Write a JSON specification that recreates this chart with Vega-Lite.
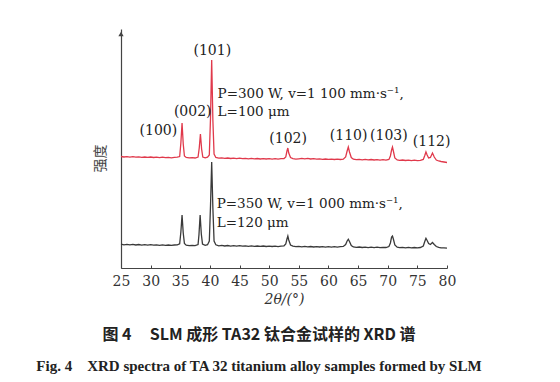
{
  "$schema": "https://vega.github.io/schema/vega-lite/v6.json",
  "width": 326,
  "height": 239,
  "autosize": {"type": "none"},
  "padding": {"left": 121, "top": 29, "right": 113, "bottom": 114},
  "background": "white",
  "config": {"view": {"stroke": null}, "axisX": {"labelOverlap": false}},
  "title": {
    "text": "图 4\u00a0\u00a0\u00a0\u00a0 SLM 成形 TA32 钛合金试样的 XRD 谱",
    "subtitle": "Fig. 4\u00a0\u00a0\u00a0 XRD spectra of TA 32 titanium alloy samples formed by SLM",
    "orient": "bottom",
    "anchor": "middle",
    "dx": -25,
    "offset": 21,
    "font": "Noto Sans CJK SC",
    "fontSize": 16,
    "fontWeight": "bold",
    "color": "#222",
    "subtitleFont": "Liberation Serif",
    "subtitleFontSize": 15,
    "subtitleFontWeight": "bold",
    "subtitleColor": "#222",
    "subtitlePadding": 16
  },
  "datasets": {
    "xrd": [
      {"s":"r","x":25,"y":111.5},{"s":"r","x":25.5,"y":111.0},{"s":"r","x":26,"y":111.4},{"s":"r","x":26.5,"y":110.9},{"s":"r","x":27,"y":111.3},{"s":"r","x":27.5,"y":110.8},{"s":"r","x":28,"y":111.2},{"s":"r","x":28.5,"y":110.7},{"s":"r","x":29,"y":111.0},{"s":"r","x":29.5,"y":110.6},{"s":"r","x":30,"y":111.0},{"s":"r","x":30.5,"y":110.5},{"s":"r","x":31,"y":110.9},{"s":"r","x":31.5,"y":110.4},{"s":"r","x":32,"y":110.8},{"s":"r","x":32.5,"y":110.3},{"s":"r","x":33,"y":110.6},{"s":"r","x":33.5,"y":110.2},{"s":"r","x":34,"y":110.6},{"s":"r","x":34.5,"y":110.8},{"s":"r","x":34.9,"y":111.5},{"s":"r","x":35.1,"y":125},{"s":"r","x":35.3,"y":145},{"s":"r","x":35.5,"y":124},{"s":"r","x":35.7,"y":112},{"s":"r","x":36,"y":110.5},{"s":"r","x":36.5,"y":110.1},{"s":"r","x":37,"y":110.4},{"s":"r","x":37.5,"y":110.0},{"s":"r","x":38,"y":111.0},{"s":"r","x":38.2,"y":120},{"s":"r","x":38.4,"y":134},{"s":"r","x":38.6,"y":119},{"s":"r","x":38.8,"y":111},{"s":"r","x":39.2,"y":110.2},{"s":"r","x":39.6,"y":110.8},{"s":"r","x":39.9,"y":113},{"s":"r","x":40.1,"y":150},{"s":"r","x":40.3,"y":208},{"s":"r","x":40.5,"y":148},{"s":"r","x":40.7,"y":114},{"s":"r","x":41,"y":110.5},{"s":"r","x":41.5,"y":109.8},{"s":"r","x":42,"y":110.2},{"s":"r","x":42.5,"y":109.6},{"s":"r","x":43,"y":110.0},{"s":"r","x":43.5,"y":109.5},{"s":"r","x":44,"y":109.9},{"s":"r","x":44.5,"y":109.4},{"s":"r","x":45,"y":109.8},{"s":"r","x":45.5,"y":109.3},{"s":"r","x":46,"y":109.7},{"s":"r","x":46.5,"y":109.2},{"s":"r","x":47,"y":109.6},{"s":"r","x":47.5,"y":109.1},{"s":"r","x":48,"y":109.5},{"s":"r","x":48.5,"y":109.0},{"s":"r","x":49,"y":109.4},{"s":"r","x":49.5,"y":109.0},{"s":"r","x":50,"y":109.3},{"s":"r","x":50.5,"y":108.9},{"s":"r","x":51,"y":109.3},{"s":"r","x":51.5,"y":108.8},{"s":"r","x":52,"y":109.3},{"s":"r","x":52.5,"y":109.5},{"s":"r","x":52.8,"y":111},{"s":"r","x":53.0,"y":117},{"s":"r","x":53.15,"y":120},{"s":"r","x":53.3,"y":115},{"s":"r","x":53.6,"y":110.5},{"s":"r","x":54,"y":109.3},{"s":"r","x":54.5,"y":108.8},{"s":"r","x":55,"y":109.2},{"s":"r","x":55.5,"y":109.6},{"s":"r","x":56,"y":109.2},{"s":"r","x":56.5,"y":109.6},{"s":"r","x":57,"y":109.0},{"s":"r","x":57.5,"y":109.3},{"s":"r","x":58,"y":108.8},{"s":"r","x":58.5,"y":109.2},{"s":"r","x":59,"y":108.7},{"s":"r","x":59.5,"y":109.0},{"s":"r","x":60,"y":108.6},{"s":"r","x":60.5,"y":108.9},{"s":"r","x":61,"y":108.5},{"s":"r","x":61.5,"y":108.9},{"s":"r","x":62,"y":108.5},{"s":"r","x":62.5,"y":108.8},{"s":"r","x":62.9,"y":111},{"s":"r","x":63.15,"y":117},{"s":"r","x":63.35,"y":121},{"s":"r","x":63.55,"y":116},{"s":"r","x":63.85,"y":110.5},{"s":"r","x":64.2,"y":108.8},{"s":"r","x":64.7,"y":108.3},{"s":"r","x":65.2,"y":108.7},{"s":"r","x":65.7,"y":108.2},{"s":"r","x":66.2,"y":108.6},{"s":"r","x":66.7,"y":108.1},{"s":"r","x":67.2,"y":108.5},{"s":"r","x":67.7,"y":108.0},{"s":"r","x":68.2,"y":108.4},{"s":"r","x":68.7,"y":107.9},{"s":"r","x":69.2,"y":108.3},{"s":"r","x":69.7,"y":107.9},{"s":"r","x":70.2,"y":108.5},{"s":"r","x":70.45,"y":112},{"s":"r","x":70.65,"y":118},{"s":"r","x":70.8,"y":121},{"s":"r","x":70.95,"y":117},{"s":"r","x":71.2,"y":110},{"s":"r","x":71.6,"y":108},{"s":"r","x":72,"y":107.6},{"s":"r","x":72.5,"y":108.0},{"s":"r","x":73,"y":107.5},{"s":"r","x":73.5,"y":107.9},{"s":"r","x":74,"y":107.4},{"s":"r","x":74.5,"y":107.8},{"s":"r","x":75,"y":107.3},{"s":"r","x":75.5,"y":107.7},{"s":"r","x":76,"y":108.5},{"s":"r","x":76.25,"y":112.5},{"s":"r","x":76.45,"y":116},{"s":"r","x":76.65,"y":113},{"s":"r","x":76.9,"y":110},{"s":"r","x":77.2,"y":110.5},{"s":"r","x":77.55,"y":115},{"s":"r","x":77.85,"y":111},{"s":"r","x":78.2,"y":108},{"s":"r","x":78.6,"y":107},{"s":"r","x":79,"y":106.5},{"s":"r","x":79.5,"y":106},{"s":"r","x":80,"y":105.5},
      {"s":"k","x":25,"y":23.8},{"s":"k","x":25.5,"y":23.2},{"s":"k","x":26,"y":23.7},{"s":"k","x":26.5,"y":23.1},{"s":"k","x":27,"y":23.6},{"s":"k","x":27.5,"y":23.0},{"s":"k","x":28,"y":23.5},{"s":"k","x":28.5,"y":22.9},{"s":"k","x":29,"y":23.4},{"s":"k","x":29.5,"y":22.9},{"s":"k","x":30,"y":23.3},{"s":"k","x":30.5,"y":22.8},{"s":"k","x":31,"y":23.2},{"s":"k","x":31.5,"y":22.7},{"s":"k","x":32,"y":23.1},{"s":"k","x":32.5,"y":22.6},{"s":"k","x":33,"y":23.0},{"s":"k","x":33.5,"y":22.6},{"s":"k","x":34,"y":23.0},{"s":"k","x":34.5,"y":23.1},{"s":"k","x":34.9,"y":24.2},{"s":"k","x":35.1,"y":36},{"s":"k","x":35.3,"y":53},{"s":"k","x":35.5,"y":35},{"s":"k","x":35.7,"y":24.5},{"s":"k","x":36,"y":22.8},{"s":"k","x":36.5,"y":22.3},{"s":"k","x":37,"y":22.7},{"s":"k","x":37.5,"y":22.3},{"s":"k","x":38,"y":23.4},{"s":"k","x":38.15,"y":33},{"s":"k","x":38.35,"y":53},{"s":"k","x":38.55,"y":34},{"s":"k","x":38.75,"y":24},{"s":"k","x":39.2,"y":22.6},{"s":"k","x":39.6,"y":23.3},{"s":"k","x":39.9,"y":27},{"s":"k","x":40.1,"y":62},{"s":"k","x":40.3,"y":106},{"s":"k","x":40.5,"y":60},{"s":"k","x":40.7,"y":27},{"s":"k","x":41,"y":23.2},{"s":"k","x":41.5,"y":22.2},{"s":"k","x":42,"y":22.6},{"s":"k","x":42.5,"y":22.0},{"s":"k","x":43,"y":22.5},{"s":"k","x":43.5,"y":21.9},{"s":"k","x":44,"y":22.4},{"s":"k","x":44.5,"y":21.8},{"s":"k","x":45,"y":22.3},{"s":"k","x":45.5,"y":21.8},{"s":"k","x":46,"y":22.2},{"s":"k","x":46.5,"y":21.7},{"s":"k","x":47,"y":22.1},{"s":"k","x":47.5,"y":21.6},{"s":"k","x":48,"y":22.0},{"s":"k","x":48.5,"y":21.6},{"s":"k","x":49,"y":22.0},{"s":"k","x":49.5,"y":21.5},{"s":"k","x":50,"y":21.9},{"s":"k","x":50.5,"y":21.5},{"s":"k","x":51,"y":21.9},{"s":"k","x":51.5,"y":21.4},{"s":"k","x":52,"y":21.9},{"s":"k","x":52.5,"y":22.2},{"s":"k","x":52.8,"y":24},{"s":"k","x":53.0,"y":29},{"s":"k","x":53.15,"y":32},{"s":"k","x":53.3,"y":28},{"s":"k","x":53.6,"y":23},{"s":"k","x":54,"y":21.8},{"s":"k","x":54.5,"y":21.3},{"s":"k","x":55,"y":21.7},{"s":"k","x":55.5,"y":21.2},{"s":"k","x":56,"y":21.6},{"s":"k","x":56.5,"y":21.1},{"s":"k","x":57,"y":21.5},{"s":"k","x":57.5,"y":21.0},{"s":"k","x":58,"y":21.4},{"s":"k","x":58.5,"y":21.0},{"s":"k","x":59,"y":21.4},{"s":"k","x":59.5,"y":20.9},{"s":"k","x":60,"y":21.3},{"s":"k","x":60.5,"y":20.9},{"s":"k","x":61,"y":21.3},{"s":"k","x":61.5,"y":20.8},{"s":"k","x":62,"y":21.3},{"s":"k","x":62.5,"y":21.6},{"s":"k","x":62.9,"y":23.5},{"s":"k","x":63.15,"y":27},{"s":"k","x":63.35,"y":28.7},{"s":"k","x":63.55,"y":26.5},{"s":"k","x":63.85,"y":22.5},{"s":"k","x":64.2,"y":21.0},{"s":"k","x":64.7,"y":20.6},{"s":"k","x":65.2,"y":21.0},{"s":"k","x":65.7,"y":20.5},{"s":"k","x":66.2,"y":20.9},{"s":"k","x":66.7,"y":20.4},{"s":"k","x":67.2,"y":20.8},{"s":"k","x":67.7,"y":20.4},{"s":"k","x":68.2,"y":20.8},{"s":"k","x":68.7,"y":20.3},{"s":"k","x":69.2,"y":20.7},{"s":"k","x":69.7,"y":20.5},{"s":"k","x":70.2,"y":21.5},{"s":"k","x":70.45,"y":25},{"s":"k","x":70.65,"y":31},{"s":"k","x":70.8,"y":32},{"s":"k","x":70.95,"y":29},{"s":"k","x":71.2,"y":23},{"s":"k","x":71.6,"y":20.8},{"s":"k","x":72,"y":20.3},{"s":"k","x":72.5,"y":20.7},{"s":"k","x":73,"y":20.2},{"s":"k","x":73.5,"y":20.6},{"s":"k","x":74,"y":20.1},{"s":"k","x":74.5,"y":20.5},{"s":"k","x":75,"y":20.1},{"s":"k","x":75.5,"y":20.5},{"s":"k","x":76,"y":22},{"s":"k","x":76.25,"y":26.5},{"s":"k","x":76.45,"y":29.7},{"s":"k","x":76.65,"y":27.5},{"s":"k","x":76.9,"y":24.5},{"s":"k","x":77.2,"y":23.5},{"s":"k","x":77.55,"y":25.5},{"s":"k","x":77.85,"y":23.5},{"s":"k","x":78.2,"y":21.5},{"s":"k","x":78.6,"y":20.6},{"s":"k","x":79,"y":20.2},{"s":"k","x":79.5,"y":20.1},{"s":"k","x":80,"y":19.8}
    ],
    "peaks": [
      {"x":31.3,"y":137,"t":"(100)"},
      {"x":37.1,"y":156,"t":"(002)"},
      {"x":40.4,"y":217,"t":"(101)"},
      {"x":53.2,"y":129,"t":"(102)"},
      {"x":63.4,"y":132,"t":"(110)"},
      {"x":70.2,"y":132,"t":"(103)"},
      {"x":77.4,"y":126.5,"t":"(112)"}
    ],
    "notes": [
      {"x":41.3,"y":174,"t":"P=300 W, v=1 100 mm·s⁻¹,"},
      {"x":41.3,"y":156,"t":"L=100 μm"},
      {"x":41.15,"y":64,"t":"P=350 W, v=1 000 mm·s⁻¹,"},
      {"x":41.15,"y":45.5,"t":"L=120 μm"}
    ],
    "arrow": [{"x":25,"y":234}]
  },
  "encoding": {
    "x": {
      "field": "x", "type": "quantitative",
      "scale": {"domain": [25, 80], "nice": false, "zero": false},
      "axis": {
        "values": [25,30,35,40,45,50,55,60,65,70,75,80],
        "grid": false,
        "title": "2θ/(°)",
        "titleFont": "DejaVu Serif",
        "titleFontSize": 14,
        "titleFontWeight": "normal",
        "titleFontStyle": "italic",
        "titleColor": "#333",
        "titleBaseline": "middle",
        "titleY": 31,
        "labelFont": "DejaVu Serif",
        "labelFontSize": 14,
        "labelColor": "#333",
        "labelBaseline": "middle",
        "labelPadding": 16,
        "labelFlush": false,
        "labelOverlap": false,
        "labelSeparation": 0,
        "tickSize": -3,
        "tickColor": "#444",
        "domainColor": "#444",
        "domainWidth": 1.2
      }
    },
    "y": {
      "field": "y", "type": "quantitative",
      "scale": {"domain": [0, 239], "nice": false, "zero": false},
      "axis": {
        "grid": false,
        "ticks": false,
        "labels": false,
        "title": "强度",
        "titleFont": "Noto Sans CJK SC",
        "titleFontSize": 14,
        "titleFontWeight": "normal",
        "titleColor": "#444",
        "titleBaseline": "middle",
        "titleX": -21,
        "titleY": 129,
        "domainColor": "#444",
        "domainWidth": 1.2
      }
    }
  },
  "layer": [
    {
      "data": {"name": "xrd"},
      "mark": {"type": "line", "strokeWidth": 1.3, "interpolate": "linear"},
      "encoding": {
        "color": {
          "field": "s", "type": "nominal",
          "scale": {"domain": ["r", "k"], "range": ["#e0394b", "#3a3a3a"]},
          "legend": null
        }
      }
    },
    {
      "data": {"name": "arrow"},
      "mark": {"type": "point", "shape": "triangle-up", "filled": true, "size": 28, "color": "#444", "opacity": 1}
    },
    {
      "data": {"name": "peaks"},
      "mark": {"type": "text", "font": "DejaVu Serif", "fontSize": 14, "color": "#222", "align": "center", "baseline": "middle"},
      "encoding": {"text": {"field": "t"}}
    },
    {
      "data": {"name": "notes"},
      "mark": {"type": "text", "font": "DejaVu Serif", "fontSize": 13.5, "color": "#222", "align": "left", "baseline": "middle"},
      "encoding": {"text": {"field": "t"}}
    }
  ]
}
